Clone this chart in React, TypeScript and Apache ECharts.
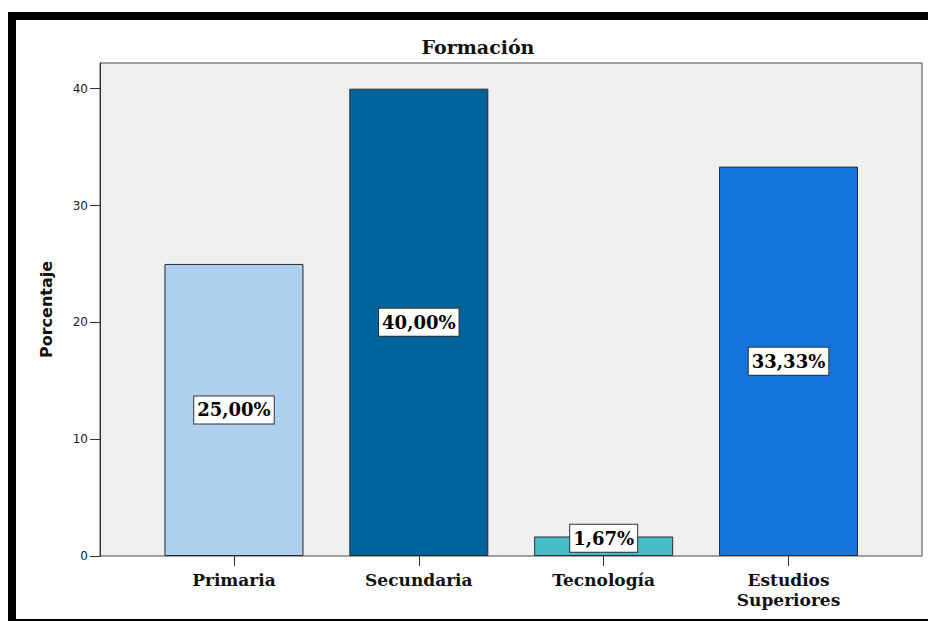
import React, { useEffect, useRef } from "react";
import * as echarts from "echarts";

const categories = ["Primaria", "Secundaria", "Tecnología", "Estudios\nSuperiores"];
const percentages = [25.0, 40.0, 1.67, 33.33];
const barColors = ["#aecfee", "#00649b", "#46bfc4", "#1374db"];
const yTicks = [0, 10, 20, 30, 40];
const yMax = 42.2;

export default function App() {
  const ref = useRef<HTMLDivElement>(null);
  useEffect(() => {
    if (!ref.current) return;
    const chart = echarts.init(ref.current, null, { renderer: "svg" });
    const serif = "DejaVu Serif";
    const sans = "DejaVu Sans";
    chart.setOption({
      animation: false,
      backgroundColor: "#ffffff",
      title: {
        text: "Formación",
        left: 473,
        textAlign: "center",
        top: 32,
        textStyle: { fontFamily: serif, fontWeight: "bold", fontSize: 19, color: "#111" },
      },
      graphic: [
        {
          type: "rect",
          shape: { x: 12, y: 16, width: 1000, height: 607 },
          style: { fill: "none", stroke: "#000", lineWidth: 8 },
          z: 100,
        },
      ],
      grid: [
        { left: 100, top: 63, width: 822, height: 493, show: true, backgroundColor: "#efefef", borderColor: "#4a4a4a", borderWidth: 1 },
        { left: 141.55, top: 63, width: 739.4, height: 493, show: false },
      ],
      xAxis: [
        { type: "value", gridIndex: 0, show: false, min: 0, max: 1 },
        {
          type: "category",
          gridIndex: 1,
          data: categories,
          boundaryGap: true,
          axisLine: { show: false },
          axisTick: { show: true, alignWithLabel: true, length: 10, lineStyle: { color: "#333" } },
          axisLabel: {
            interval: 0,
            margin: 14,
            fontFamily: serif,
            fontWeight: "bold",
            fontSize: 17,
            lineHeight: 20,
            color: "#111",
          },
        },
      ],
      yAxis: [
        {
          type: "value",
          gridIndex: 0,
          min: 0,
          max: yMax,
          interval: 10,
          name: "Porcentaje",
          nameLocation: "middle",
          nameGap: 46,
          nameTextStyle: { fontFamily: sans, fontWeight: "bold", fontSize: 16, color: "#111" },
          axisLine: { show: true, lineStyle: { color: "#333" } },
          axisTick: { show: true, length: 10, lineStyle: { color: "#333" }, customValues: yTicks },
          axisLabel: { fontFamily: sans, fontSize: 12, color: "#222", margin: 12, customValues: yTicks },
          splitLine: { show: false },
        },
        { type: "value", gridIndex: 1, min: 0, max: yMax, show: false, splitLine: { show: false } },
      ],
      series: [
        {
          type: "bar",
          xAxisIndex: 1,
          yAxisIndex: 1,
          barWidth: 139,
          data: percentages.map((v, i) => ({
            value: v,
            itemStyle: { color: barColors[i] },
            label: v < 5 ? { offset: [0, -8] } : undefined,
          })),
          itemStyle: { borderColor: "#2b2b2b", borderWidth: 1 },
          label: {
            show: true,
            position: "inside",
            formatter: (p: any) => p.value.toFixed(2).replace(".", ",") + "%",
            fontFamily: serif,
            fontWeight: "bold",
            fontSize: 18,
            color: "#000",
            backgroundColor: "#ffffff",
            borderColor: "#333",
            borderWidth: 1,
            padding: [5, 3, 4, 3],
          },
        },
      ],
    });
    return () => chart.dispose();
  }, []);
  return <div ref={ref} style={{ position: "fixed", left: 0, top: 0, width: 928, height: 621 }} />;
}
